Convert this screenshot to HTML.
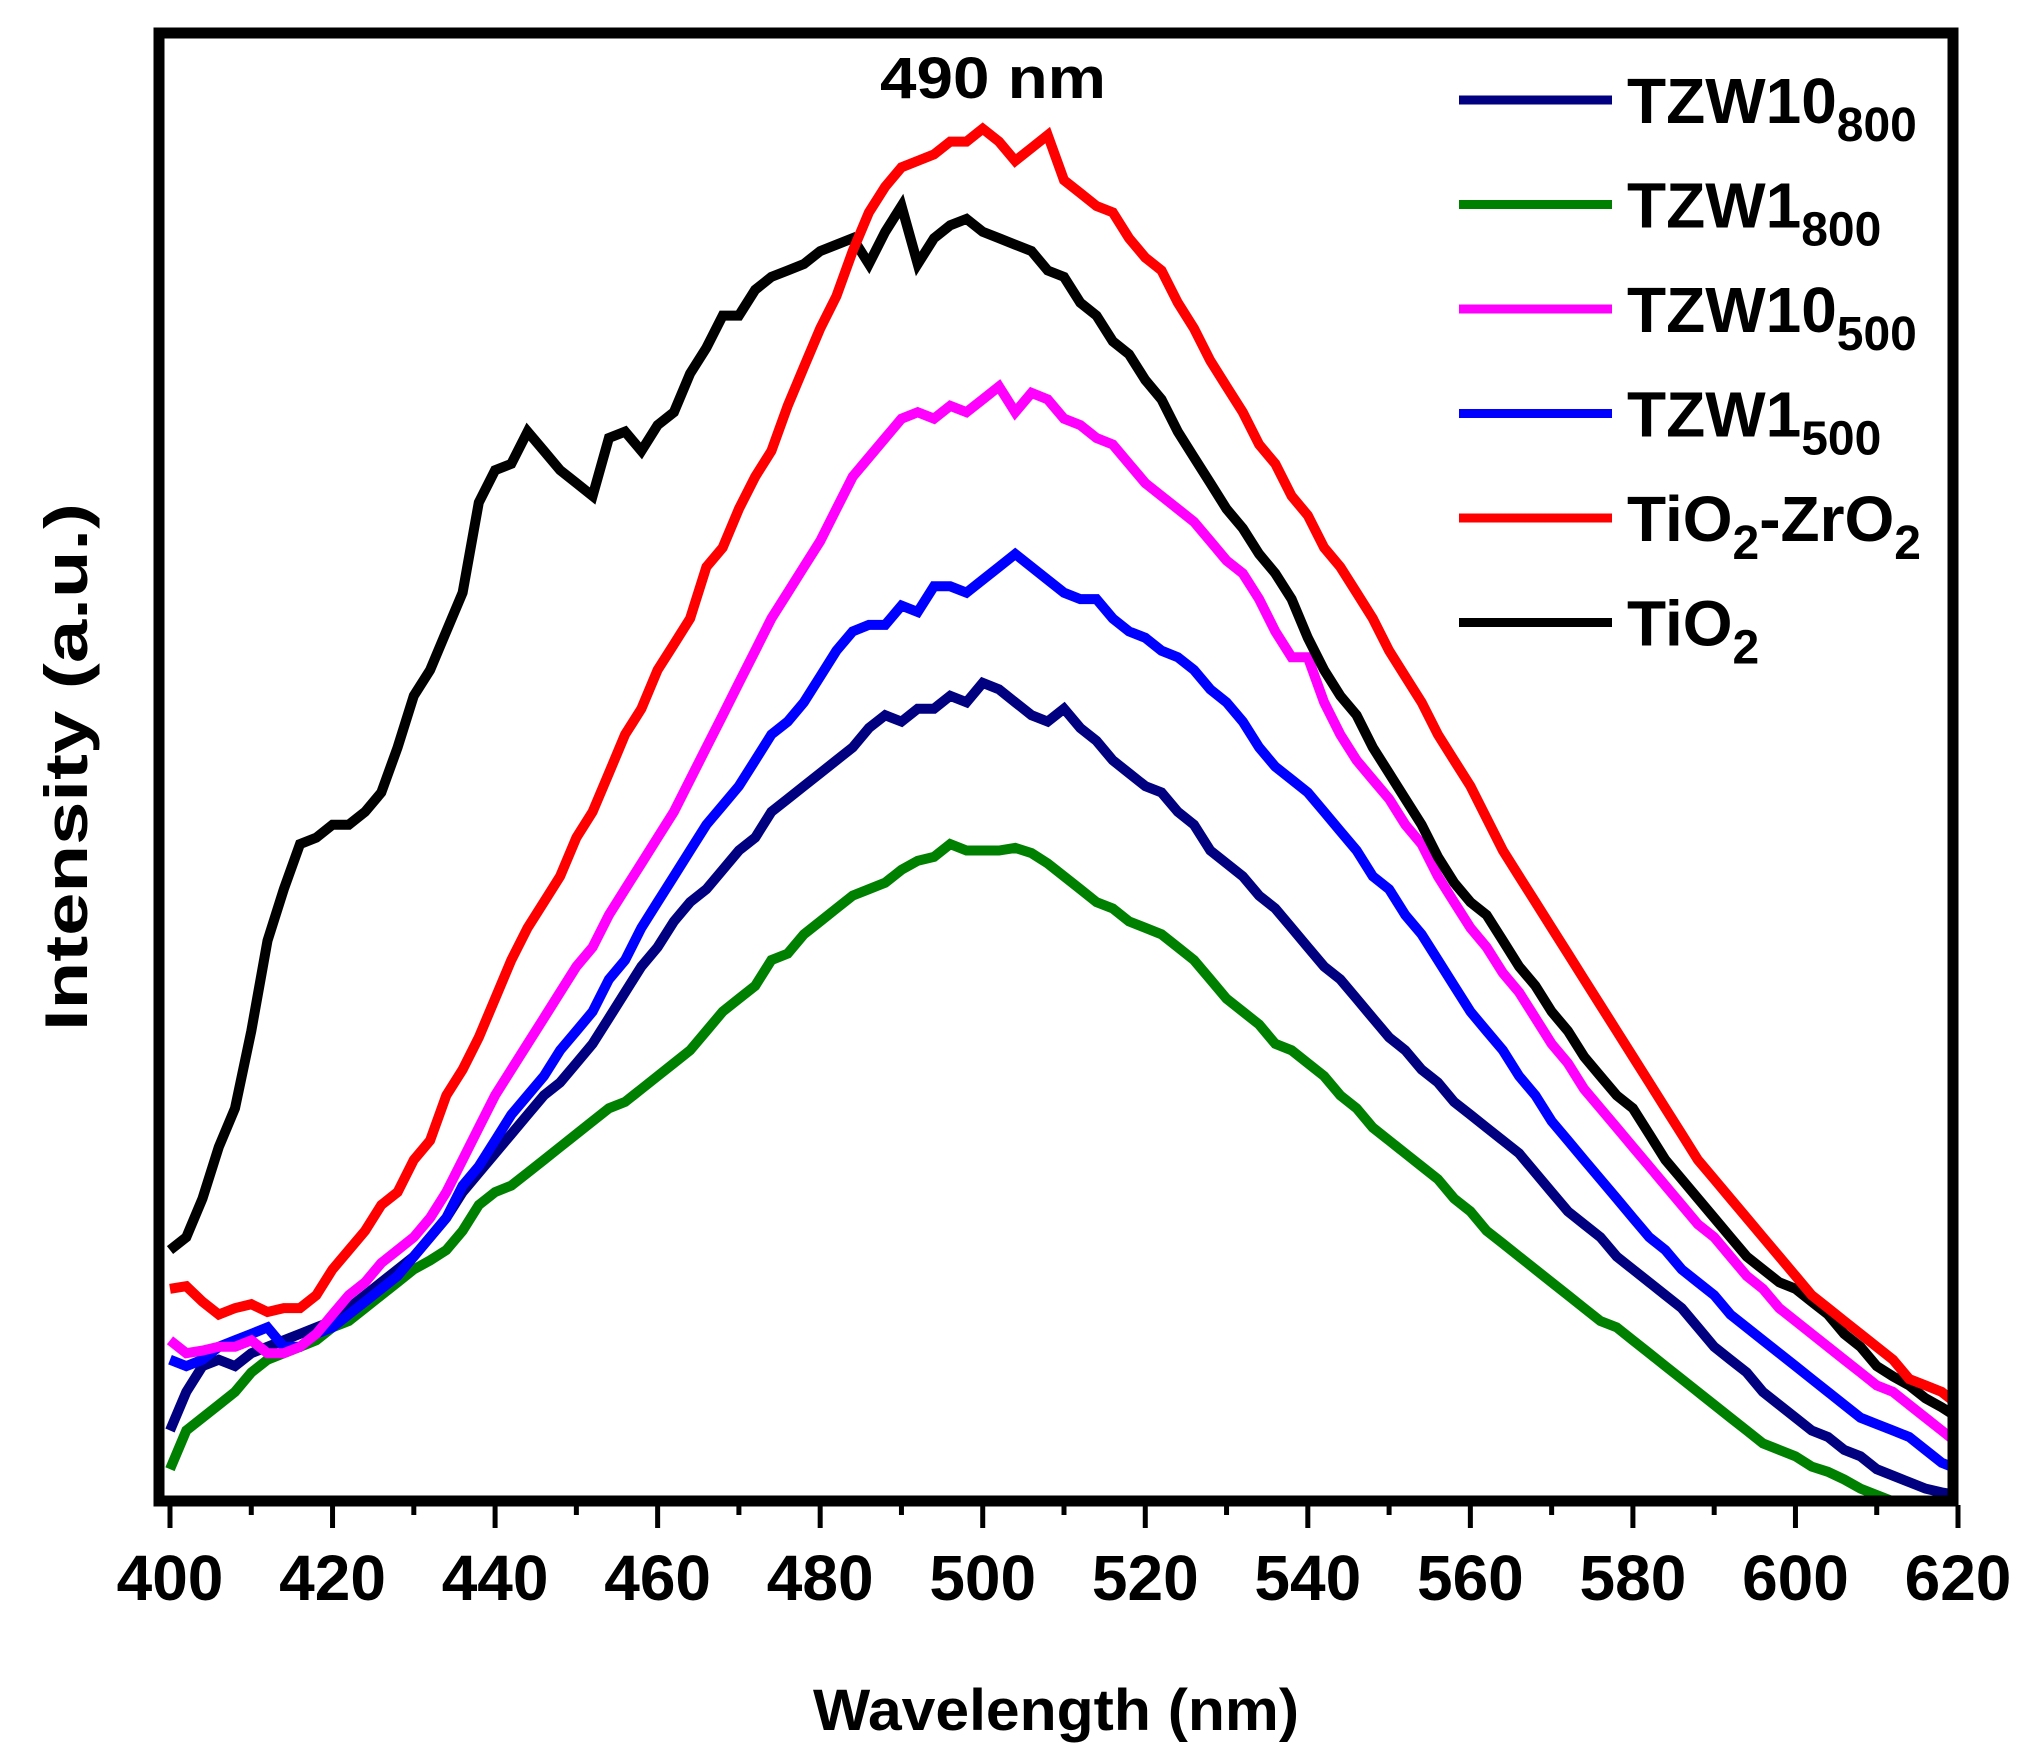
<!DOCTYPE html>
<html><head><meta charset="utf-8"><style>
html,body{margin:0;padding:0;background:#fff}
svg{display:block}
text{font-family:"Liberation Sans",Arial,sans-serif;font-weight:bold;fill:#000}
</style></head><body>
<svg id="chart" width="2021" height="1757" viewBox="0 0 2021 1757" xmlns="http://www.w3.org/2000/svg">
<rect x="0" y="0" width="2021" height="1757" fill="#fff"/>
<g id="series"></g>
<rect x="159" y="33" width="1794" height="1468" fill="none" stroke="#000" stroke-width="11"/>
<g id="ticks"></g>
<text x="1056" y="1730" text-anchor="middle" font-size="58" textLength="486" lengthAdjust="spacingAndGlyphs">Wavelength (nm)</text>
<text transform="translate(87,767) rotate(-90)" text-anchor="middle" font-size="60" textLength="528" lengthAdjust="spacingAndGlyphs">Intensity (a.u.)</text>
<text x="993" y="98" text-anchor="middle" font-size="58" textLength="226" lengthAdjust="spacingAndGlyphs">490 nm</text>
<g id="legend"></g>
</svg>
<script>
const NS="http://www.w3.org/2000/svg";
const wavelengths=[];for(let w=400;w<=620;w+=2)wavelengths.push(w);
const xTicks=[400,420,440,460,480,500,520,540,560,580,600,620];
// intensity values (a.u.), 2 nm step
const tzw10_800=[50,80,100,105,100,110,115,120,125,130,135,145,155,165,175,185,200,215,235,250,265,280,295,310,320,335,350,370,390,410,425,445,460,470,485,500,510,530,540,550,560,570,580,595,605,600,610,610,620,615,630,625,615,605,600,610,595,585,570,560,550,545,530,520,500,490,480,465,455,440,425,410,400,385,370,355,345,330,320,305,295,285,275,265,250,235,220,210,200,185,175,165,155,145,130,115,105,95,80,70,60,50,45,35,30,20,15,10,5,2,0];
const tzw1_800=[20,50,60,70,80,95,105,110,115,120,130,135,145,155,165,175,182,190,205,225,235,240,250,260,270,280,290,300,305,315,325,335,345,360,375,385,395,415,420,435,445,455,465,470,475,485,492,495,505,500,500,500,502,498,490,480,470,460,455,445,440,435,425,415,400,385,375,365,350,345,335,325,310,300,285,275,265,255,245,230,220,205,195,185,175,165,155,145,135,130,120,110,100,90,80,70,60,50,40,35,30,22,18,12,5,0,-5,-10,-15,-20,-25];
const tzw10_500=[120,110,112,115,115,120,110,110,115,125,140,155,165,180,190,200,215,235,260,285,310,330,350,370,390,410,425,450,470,490,510,530,555,580,605,630,655,680,700,720,740,765,790,805,820,835,840,835,845,840,850,860,840,855,850,835,830,820,815,800,785,775,765,755,740,725,715,695,670,650,650,615,590,570,555,540,520,505,480,460,440,425,405,390,370,350,335,315,300,285,270,255,240,225,210,200,185,170,160,145,135,125,115,105,95,85,80,70,60,50,40];
const tzw1_500=[105,100,105,115,120,125,130,115,115,125,130,140,150,160,170,185,200,215,240,255,275,295,310,325,345,360,375,400,415,440,460,480,500,520,535,550,570,590,600,615,635,655,670,675,675,690,685,705,705,700,710,720,730,720,710,700,695,695,680,670,665,655,650,640,625,615,600,580,565,555,545,530,515,500,480,470,450,435,415,395,375,360,345,325,310,290,275,260,245,230,215,200,190,175,165,155,140,130,120,110,100,90,80,70,60,55,50,45,35,25,20];
const tio2_zro2=[160,162,150,140,145,148,142,145,145,155,175,190,205,225,235,260,275,310,330,355,385,415,440,460,480,510,530,560,590,610,640,660,680,720,735,765,790,810,845,875,905,930,965,995,1015,1030,1035,1040,1050,1050,1060,1050,1035,1045,1055,1020,1010,1000,995,975,960,950,925,905,880,860,840,815,800,775,760,735,720,700,680,655,635,615,590,570,550,525,500,480,460,440,420,400,380,360,340,320,300,280,260,245,230,215,200,185,170,155,145,135,125,115,105,90,85,80,70];
const tio2=[190,200,230,270,300,360,430,470,505,510,520,520,530,545,580,620,640,670,700,770,795,800,825,810,795,785,775,820,825,810,830,840,870,890,915,915,935,945,950,955,965,970,975,955,980,1000,955,975,985,990,980,975,970,965,950,945,925,915,895,885,865,850,825,805,785,765,750,730,715,695,665,640,620,605,580,560,540,520,495,475,460,450,430,410,395,375,360,340,325,310,300,280,260,245,230,215,200,185,175,165,160,150,140,125,115,100,92,85,75,68,60];
const colors=["#000080","#008000","#ff00ff","#0000ff","#ff0000","#000000"];
const allSeries=[tzw10_800,tzw1_800,tzw10_500,tzw1_500,tio2_zro2,tio2];
const seriesKeys=["tzw10-800","tzw1-800","tzw10-500","tzw1-500","tio2-zro2","tio2"];
const subs=["800","800","500","500","",""];
const drawOrder=[1,0,3,2,5,4];
function xScale(w){return 170+(w-400)*(1788/220);}
function yScale(v){return 1495-v*1.289;}
const sg=document.getElementById('series');
const cp=document.createElementNS(NS,'clipPath');cp.id='clip';
const cr=document.createElementNS(NS,'rect');cr.setAttribute('x',164);cr.setAttribute('y',38);cr.setAttribute('width',1784);cr.setAttribute('height',1458);
cp.appendChild(cr);document.getElementById('chart').appendChild(cp);
sg.setAttribute('clip-path','url(#clip)');
drawOrder.forEach(i=>{
  const d=allSeries[i].map((v,k)=>(k?'L':'M')+xScale(wavelengths[k]).toFixed(1)+','+yScale(v).toFixed(1)).join('');
  const p=document.createElementNS(NS,'path');
  p.setAttribute('d',d);p.setAttribute('fill','none');p.setAttribute('stroke',colors[i]);
  p.setAttribute('stroke-width','10');p.setAttribute('stroke-linejoin','miter');
  
  
  sg.appendChild(p);
});
const tg=document.getElementById('ticks');
for(let w=400;w<=620;w+=10){
  const major=(w%20===0);
  const l=document.createElementNS(NS,'line');
  l.setAttribute('x1',xScale(w));l.setAttribute('x2',xScale(w));
  l.setAttribute('y1',1505);l.setAttribute('y2',major?1528:1515);
  l.setAttribute('stroke','#000');l.setAttribute('stroke-width','5');
  
  
  tg.appendChild(l);
}
xTicks.forEach(w=>{
  const t=document.createElementNS(NS,'text');
  t.setAttribute('x',xScale(w));t.setAttribute('y',1600);
  t.setAttribute('text-anchor','middle');t.setAttribute('font-size','64');
  t.textContent=w;
  
  
  tg.appendChild(t);
});
const lg=document.getElementById('legend');
const labelsMain=["TZW10","TZW1","TZW10","TZW1","TiO",""];
for(let i=0;i<6;i++){
  const y=100+i*104.5;
  const l=document.createElementNS(NS,'line');
  l.setAttribute('x1',1459);l.setAttribute('x2',1612);l.setAttribute('y1',y);l.setAttribute('y2',y);
  l.setAttribute('stroke',colors[i]);l.setAttribute('stroke-width','9');
  
  
  lg.appendChild(l);
  const t=document.createElementNS(NS,'text');
  t.setAttribute('x',1627);t.setAttribute('y',y+23);t.setAttribute('font-size','64');
  
  
  const add=(txt,sub)=>{const s=document.createElementNS(NS,'tspan');s.textContent=txt;
    if(sub){s.setAttribute('font-size','48');s.setAttribute('dy','18');}
    t.appendChild(s);return s;};
  if(i<4){add(labelsMain[i]);add(subs[i],true);}
  else if(i===4){add("TiO");add("2",true);const m=add("-ZrO");m.setAttribute('dy','-18');add("2",true);}
  else {add("TiO");add("2",true);}
  lg.appendChild(t);
}
</script>
</body></html>
